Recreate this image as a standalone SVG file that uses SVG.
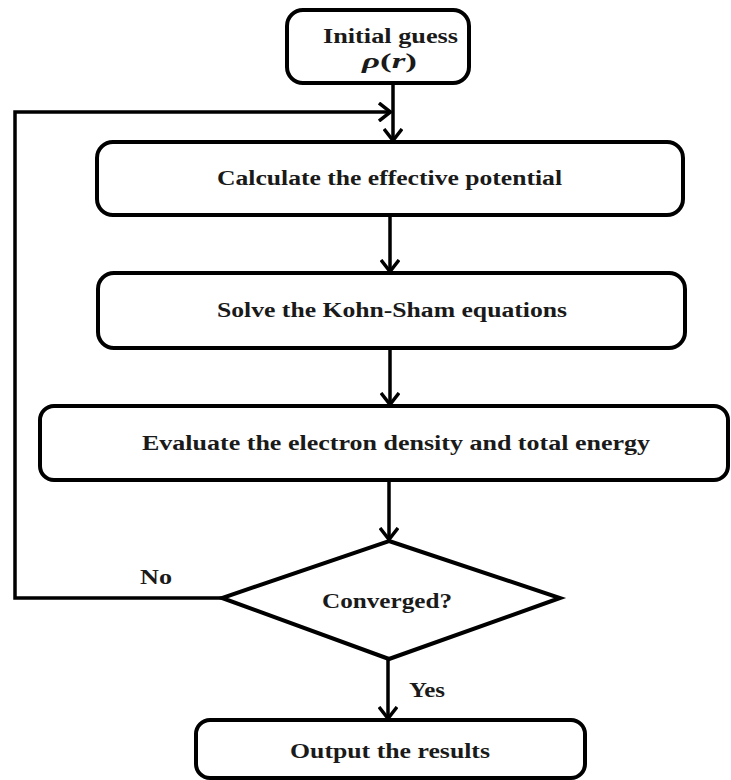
<svg xmlns="http://www.w3.org/2000/svg" width="731" height="780" viewBox="0 0 731 780">
<style>
.box{fill:#fff;stroke:#000;stroke-width:4}
.ln{fill:none;stroke:#000;stroke-width:3.5}
.t{font-family:"Liberation Serif","Times New Roman",serif;font-weight:bold;font-size:20px;fill:#1a1a1a}
</style>
<defs>
<marker id="ah" viewBox="0 0 14 20" refX="13" refY="10" markerWidth="14" markerHeight="20" markerUnits="userSpaceOnUse" orient="auto">
<path d="M1,1 L12.5,10 L1,19" fill="none" stroke="#000" stroke-width="3.5"/>
</marker>
</defs>
<rect width="731" height="780" fill="#fff"/>
<g id="connectors">
<line class="ln" x1="393" y1="83" x2="393" y2="141" marker-end="url(#ah)"/>
<line class="ln" x1="390" y1="215" x2="390" y2="272" marker-end="url(#ah)"/>
<line class="ln" x1="390" y1="348" x2="390" y2="405" marker-end="url(#ah)"/>
<line class="ln" x1="389" y1="480" x2="389" y2="540" marker-end="url(#ah)"/>
<line class="ln" x1="388" y1="660" x2="388" y2="719" marker-end="url(#ah)"/>
<polyline class="ln" points="222,598 15,598 15,112 391,112" marker-end="url(#ah)"/>
<text class="t" x="156" y="584" text-anchor="middle" textLength="32" lengthAdjust="spacingAndGlyphs">No</text>
<text class="t" x="427" y="697" text-anchor="middle" textLength="36" lengthAdjust="spacingAndGlyphs">Yes</text>
</g>
<g id="initial">
<rect class="box" x="287" y="10" width="182" height="73" rx="16"/>
<text class="t" x="390.5" y="43" text-anchor="middle" textLength="135" lengthAdjust="spacingAndGlyphs">Initial guess</text>
<text class="t" x="389.5" y="68" text-anchor="middle" textLength="55" lengthAdjust="spacingAndGlyphs"><tspan font-style="italic">ρ</tspan>(<tspan font-style="italic">r</tspan>)</text>
</g>
<g id="calc">
<rect class="box" x="97" y="142" width="586" height="73" rx="16"/>
<text class="t" x="389.5" y="185" text-anchor="middle" textLength="345" lengthAdjust="spacingAndGlyphs">Calculate the effective potential</text>
</g>
<g id="solve">
<rect class="box" x="98" y="273" width="587" height="75" rx="16"/>
<text class="t" x="392" y="317" text-anchor="middle" textLength="350" lengthAdjust="spacingAndGlyphs">Solve the Kohn-Sham equations</text>
</g>
<g id="evaluate">
<rect class="box" x="40" y="406" width="688" height="74" rx="14"/>
<text class="t" x="396" y="450" text-anchor="middle" textLength="508" lengthAdjust="spacingAndGlyphs">Evaluate the electron density and total energy</text>
</g>
<g id="converged">
<polygon class="box" points="389,541 560,598 389,659 222,598"/>
<text class="t" x="387" y="608" text-anchor="middle" textLength="130" lengthAdjust="spacingAndGlyphs">Converged?</text>
</g>
<g id="output">
<rect class="box" x="196" y="720" width="389" height="58" rx="14"/>
<text class="t" x="390" y="758" text-anchor="middle" textLength="200" lengthAdjust="spacingAndGlyphs">Output the results</text>
</g>
</svg>
